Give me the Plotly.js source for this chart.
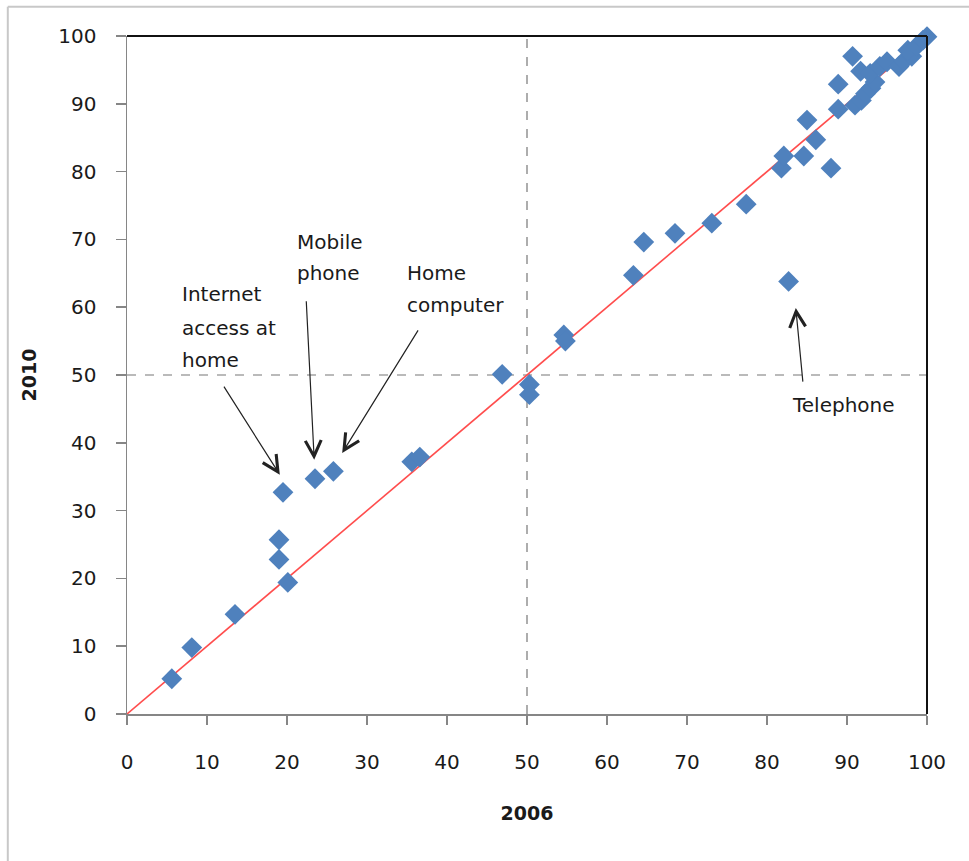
<!DOCTYPE html>
<html>
<head>
<meta charset="utf-8">
<script src="https://cdn.plot.ly/plotly-3.0.1.min.js"></script>
<style>
html,body{margin:0;padding:0;background:#fff;}
#chart{width:969px;height:861px;}
</style>
</head>
<body>
<div id="chart"></div>
<script>
// Share in 2006 (x) vs 2010 (y)
const x2006 = [5.6, 8.1, 13.5, 19.0, 19.0, 20.1, 19.5, 23.5, 25.8, 35.6, 36.6,
  46.9, 50.3, 50.3, 54.6, 54.8, 63.3, 64.6, 68.5, 73.1, 77.4, 82.7,
  81.8, 82.1, 84.6, 85.0, 86.1, 88.0, 88.9, 88.9, 90.7,
  91.0, 91.8, 92.3, 93.0, 93.5, 91.7, 92.9, 94.1, 95.0, 96.5, 97.1, 98.1, 97.6, 98.7, 99.5, 100];
const y2010 = [5.2, 9.8, 14.7, 25.7, 22.8, 19.4, 32.7, 34.7, 35.8, 37.2, 37.9,
  50.1, 48.6, 47.1, 55.9, 55.0, 64.7, 69.6, 70.9, 72.4, 75.2, 63.8,
  80.5, 82.3, 82.3, 87.6, 84.7, 80.5, 89.2, 92.9, 97.0,
  89.8, 90.5, 91.5, 92.3, 93.2, 94.8, 94.5, 95.5, 96.2, 95.5, 96.3, 97.0, 97.9, 98.5, 99.4, 99.9];

const tickVals = [0, 10, 20, 30, 40, 50, 60, 70, 80, 90, 100];
const diagonal = [0, 100];
const midline = 50;

// annotation text lines
const labelText = ["Internet", "access at", "home", "Mobile", "phone", "Home", "computer", "Telephone"];
const labelX = [6.6, 6.6, 6.6, 21.0, 21.0, 34.8, 34.8, 82.9];
const labelY = [61.9, 56.9, 52.2, 69.6, 65.0, 65.0, 60.3, 45.6];
// arrows: head (x,y) and tail (ax,ay)
const arrowHeadX = [19.1, 23.4, 26.9, 83.6];
const arrowHeadY = [35.3, 37.5, 38.5, 59.9];
const arrowTailX = [12.0, 22.4, 36.5, 84.5];
const arrowTailY = [48.5, 61.1, 56.8, 48.8];

const annotations = [];
for (let i = 0; i < labelText.length; i++) {
  annotations.push({
    x: labelX[i], y: labelY[i], xref: 'x', yref: 'y', text: labelText[i],
    showarrow: false, xanchor: 'left', yanchor: 'middle',
    font: {family: 'DejaVu Sans', size: 20, color: '#1a1a1a'}
  });
}
for (let i = 0; i < arrowHeadX.length; i++) {
  annotations.push({
    x: arrowHeadX[i], y: arrowHeadY[i], xref: 'x', yref: 'y',
    ax: arrowTailX[i], ay: arrowTailY[i], axref: 'x', ayref: 'y',
    text: '', showarrow: true, arrowhead: 5, arrowsize: 2.6, arrowwidth: 1.2,
    arrowcolor: '#222', standoff: 0, startstandoff: 0
  });
}

const traces = [
  {
    x: diagonal, y: diagonal, mode: 'lines', type: 'scatter',
    line: {color: '#ff4d4d', width: 1.6}, hoverinfo: 'skip', showlegend: false
  },
  {
    x: x2006, y: y2010, mode: 'markers', type: 'scatter', cliponaxis: false,
    marker: {symbol: 'diamond', size: 16, color: '#4f81bd'}, showlegend: false
  }
];

const layout = {
  width: 969, height: 861,
  margin: {l: 127, r: 42, t: 36, b: 147},
  paper_bgcolor: '#fff', plot_bgcolor: '#fff',
  showlegend: false,
  xaxis: {
    range: [0, 100], tickvals: tickVals, ticktext: tickVals.map(String),
    showgrid: false, zeroline: false,
    showline: true, linecolor: '#868686', linewidth: 1.5,
    ticks: 'outside', ticklen: 9, tickcolor: '#868686', tickwidth: 1.5,
    ticklabelstandoff: 20,
    tickfont: {family: 'DejaVu Sans', size: 20, color: '#1a1a1a'},
    title: {text: '<b>2006</b>', font: {family: 'DejaVu Sans', size: 19, color: '#1a1a1a'}, standoff: 34}
  },
  yaxis: {
    range: [0, 100], tickvals: tickVals, ticktext: tickVals.map(String),
    showgrid: false, zeroline: false,
    showline: true, linecolor: '#868686', linewidth: 1.5,
    ticks: 'outside', ticklen: 10, tickcolor: '#868686', tickwidth: 1.5,
    ticklabelstandoff: 15,
    tickfont: {family: 'DejaVu Sans', size: 20, color: '#1a1a1a'},
    title: {text: '<b>2010</b>', font: {family: 'DejaVu Sans', size: 19, color: '#1a1a1a'}, standoff: 16}
  },
  shapes: [
    {type: 'line', xref: 'x', yref: 'paper', x0: midline, x1: midline, y0: 0, y1: 1,
     line: {color: '#777', width: 1.2, dash: 'dash'}, layer: 'below'},
    {type: 'line', xref: 'paper', yref: 'y', x0: 0, x1: 1, y0: midline, y1: midline,
     line: {color: '#777', width: 1.2, dash: 'dash'}, layer: 'below'},
    {type: 'line', xref: 'paper', yref: 'paper', x0: 0, x1: 1, y0: 1, y1: 1,
     line: {color: '#111', width: 2}},
    {type: 'line', xref: 'paper', yref: 'paper', x0: 1, x1: 1, y0: 0, y1: 1,
     line: {color: '#111', width: 2}},
    // outer chart-area frame (top and left edges)
    {type: 'line', xref: 'paper', yref: 'paper', x0: -0.149, x1: 1.06, y0: 1.043, y1: 1.043,
     line: {color: '#c8c8c8', width: 2}},
    {type: 'line', xref: 'paper', yref: 'paper', x0: -0.149, x1: -0.149, y0: 1.043, y1: -0.22,
     line: {color: '#c8c8c8', width: 2}}
  ],
  annotations: annotations
};

Plotly.newPlot('chart', traces, layout, {displayModeBar: false, staticPlot: true});
</script>
</body>
</html>
